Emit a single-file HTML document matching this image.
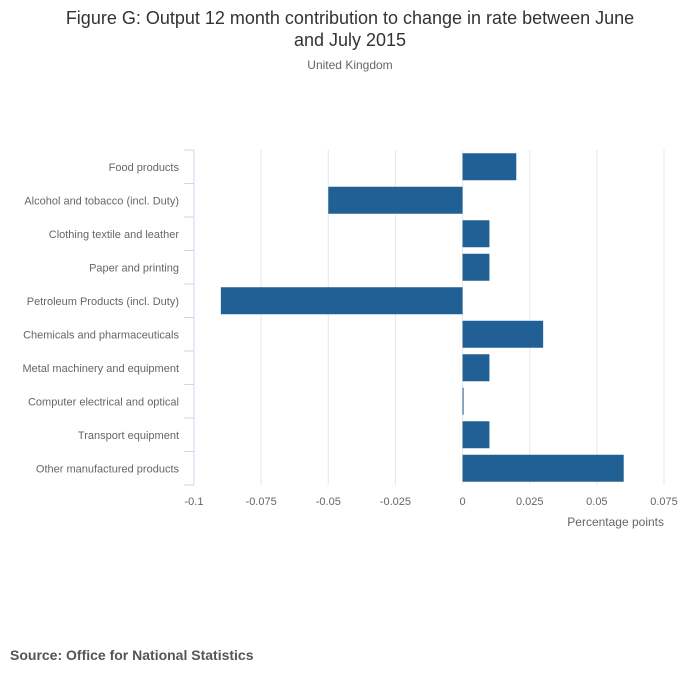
<!DOCTYPE html>
<html><head><meta charset="utf-8"><style>
body{margin:0;background:#fff;}
svg{display:block;font-family:"Liberation Sans",sans-serif;}
</style></head><body>
<svg width="700" height="682">
<text x="350" y="24" text-anchor="middle" font-size="18" fill="#333">Figure G: Output 12 month contribution to change in rate between June</text>
<text x="350" y="46" text-anchor="middle" font-size="18" fill="#333">and July 2015</text>
<text x="350" y="69" text-anchor="middle" font-size="12" fill="#666">United Kingdom</text>
<g id="grid"></g><g id="bars"></g><g id="axes"></g>
<text x="664" y="526" text-anchor="end" font-size="12" fill="#666">Percentage points</text>
<text x="10" y="660" font-size="14" font-weight="bold" fill="#555">Source: Office for National Statistics</text>
</svg>
<script>
const categories=["Food products","Alcohol and tobacco (incl. Duty)","Clothing textile and leather","Paper and printing","Petroleum Products (incl. Duty)","Chemicals and pharmaceuticals","Metal machinery and equipment","Computer electrical and optical","Transport equipment","Other manufactured products"];
const values=[0.02,-0.05,0.01,0.01,-0.09,0.03,0.01,0.0003,0.01,0.06];
const ticks=[-0.1,-0.075,-0.05,-0.025,0,0.025,0.05,0.075];
const tickLabels=["-0.1","-0.075","-0.05","-0.025","0","0.025","0.05","0.075"];
{
const NS="http://www.w3.org/2000/svg";
const x0=194,x1=664,yTop=150,yBot=485;
const xs=v=>x0+(v-(-0.1))/(0.075-(-0.1))*(x1-x0);
const band=(yBot-yTop)/categories.length;
const yc=i=>yTop+band*(i+0.5);
function mk(t,a,p){const e=document.createElementNS(NS,t);for(const k in a)e.setAttribute(k,a[k]);document.getElementById(p).appendChild(e);return e;}
ticks.forEach((t,i)=>{
 if(i>0){const g=mk('line',{x1:xs(t),x2:xs(t),y1:yTop,y2:yBot,stroke:'#e6e6e6','stroke-width':1},'grid');
 
 }
 const l=mk('text',{x:xs(t),y:505,'text-anchor':'middle','font-size':11,fill:'#666'},'axes');l.textContent=tickLabels[i];
 
 
});
const ax=mk('line',{x1:x0,x2:x0,y1:yTop,y2:yBot,stroke:'#ccd6eb','stroke-width':1},'axes');


for(let i=0;i<=categories.length;i++){const y=yTop+band*i;const tk=mk('line',{x1:x0-10,x2:x0,y1:y,y2:y,stroke:'#ccd6eb'},'axes');
 
 }
categories.forEach((c,i)=>{
 const t=mk('text',{x:179,y:yc(i)+4,'text-anchor':'end','font-size':11,fill:'#666'},'axes');t.textContent=c;
 
 
 const v=values[i];const a=xs(0),b=xs(v);
 const r=mk('rect',{x:Math.min(a,b),y:yc(i)-13.5,width:Math.max(Math.abs(b-a),1),height:27,fill:'#206095'},'bars');
 
 
});
}
</script>
</body></html>
